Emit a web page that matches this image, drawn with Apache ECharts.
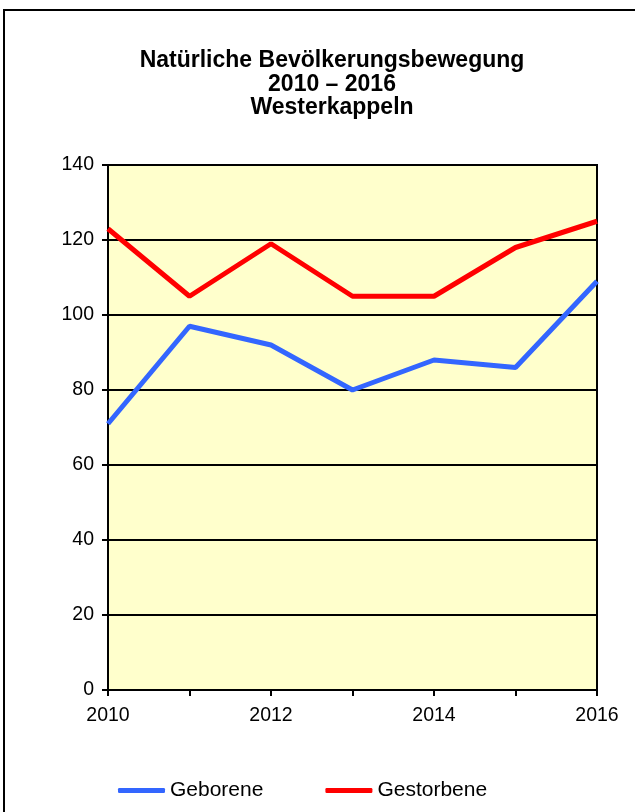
<!DOCTYPE html>
<html>
<head>
<meta charset="utf-8">
<script src="https://cdn.jsdelivr.net/npm/echarts@6/dist/echarts.min.js"></script>
<style>
  html, body { margin: 0; padding: 0; background: #fff; }
  #main { width: 635px; height: 812px; }
</style>
</head>
<body>
<div id="main"></div>
<script>
var years = ['2010', '2011', '2012', '2013', '2014', '2015', '2016'];
var geborene = [71, 97, 92, 80, 88, 86, 109];
var gestorbene = [123, 105, 119, 105, 105, 118, 125];

var chart = echarts.init(document.getElementById('main'));

var option = {
  animation: false,
  textStyle: { fontFamily: 'Liberation Sans, Arial, sans-serif' },
  title: {
    text: 'Natürliche Bevölkerungsbewegung\n2010 – 2016\nWesterkappeln',
    left: 327,
    textAlign: 'center',
    top: 44,
    textStyle: { fontSize: 23, fontWeight: 'bold', color: '#000', lineHeight: 23.5 }
  },
  graphic: [{
    type: 'rect',
    shape: { x: 4, y: 10, width: 700, height: 900 },
    style: { fill: 'none', stroke: '#000', lineWidth: 2 },
    silent: true
  }],
  legend: {
    left: 113,
    top: 775,
    itemWidth: 47,
    itemHeight: 5,
    itemGap: 62,
    icon: 'roundRect',
    textStyle: { fontSize: 21, color: '#000' },
    data: ['Geborene', 'Gestorbene']
  },
  grid: {
    left: 108, right: 38, top: 165, bottom: 122,
    show: true,
    backgroundColor: '#FFFFCC',
    borderColor: '#000',
    borderWidth: 2
  },
  xAxis: {
    type: 'category',
    boundaryGap: false,
    data: years,
    axisLine: { lineStyle: { color: '#000', width: 2 } },
    axisTick: { show: true, interval: 0, length: 6, lineStyle: { color: '#000', width: 2 } },
    axisLabel: { interval: 1, fontSize: 19.5, color: '#000', margin: 16 },
    splitLine: { show: false }
  },
  yAxis: {
    type: 'value',
    min: 0, max: 140, interval: 20,
    axisLine: { show: true, lineStyle: { color: '#000', width: 2 } },
    axisTick: { show: true, length: 6, lineStyle: { color: '#000', width: 2 } },
    axisLabel: { fontSize: 19.5, color: '#000', margin: 14 },
    splitLine: { lineStyle: { color: '#000', width: 2 } }
  },
  series: [
    {
      name: 'Geborene',
      type: 'line',
      data: geborene,
      showSymbol: false,
      symbol: 'none',
      lineStyle: { color: '#3366FF', width: 5 },
      itemStyle: { color: '#3366FF' }
    },
    {
      name: 'Gestorbene',
      type: 'line',
      data: gestorbene,
      showSymbol: false,
      symbol: 'none',
      lineStyle: { color: '#FF0000', width: 5 },
      itemStyle: { color: '#FF0000' }
    }
  ]
};

chart.setOption(option);
</script>
</body>
</html>
